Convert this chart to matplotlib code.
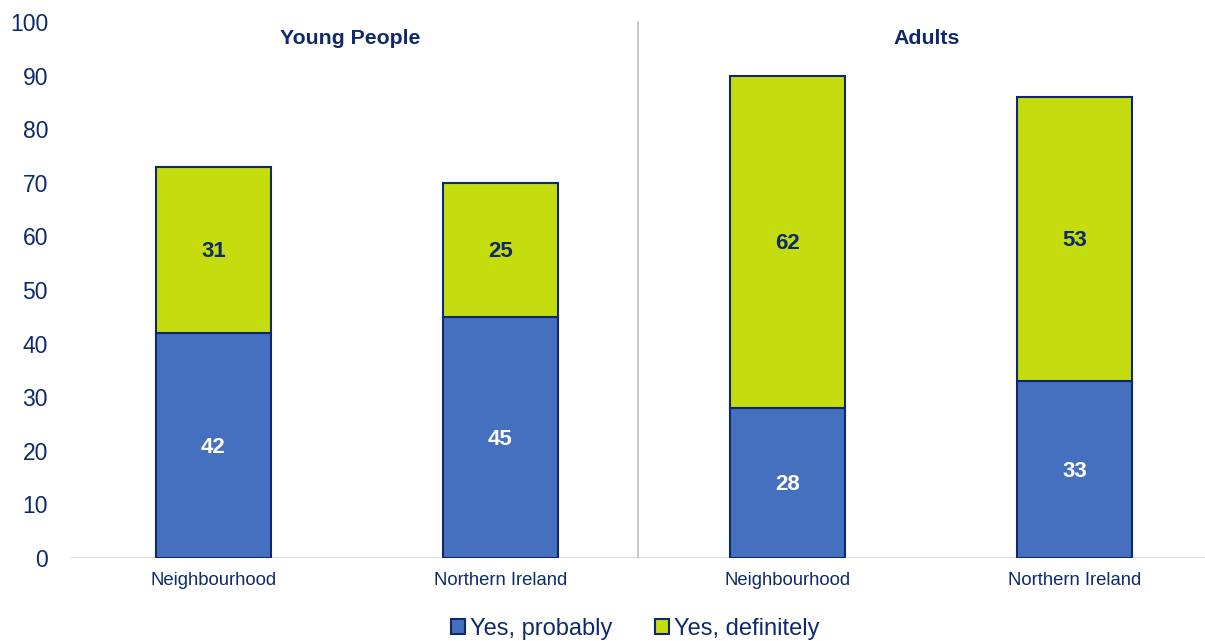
import matplotlib
matplotlib.use("Agg")
import matplotlib.pyplot as plt
import numpy as np

categories = ["Neighbourhood", "Northern Ireland", "Neighbourhood", "Northern Ireland"]
groups = ["Young People", "Adults"]
yes_probably = [42, 45, 28, 33]
yes_definitely = [31, 25, 62, 53]
series_names = ["Yes, probably", "Yes, definitely"]

navy = "#0E2A6B"
blue = "#4470BF"
green = "#C5DC0F"

plt.rcParams['font.family'] = ['Liberation Sans', 'DejaVu Sans']

fig = plt.figure(figsize=(12.05, 6.41), dpi=100)
ax = fig.add_axes([70/1205, (641-558)/641, 1 - 70/1205, (558-22)/641])

x = np.arange(len(categories))
w = 0.40
b1 = ax.bar(x, yes_probably, w, color=blue, edgecolor=navy, linewidth=1.5, label=series_names[0], zorder=3)
b2 = ax.bar(x, yes_definitely, w, bottom=yes_probably, color=green, edgecolor=navy, linewidth=1.5, label=series_names[1], zorder=3)

for xi, p, d in zip(x, yes_probably, yes_definitely):
    ax.text(xi, p / 2 - 0.3, str(p), ha="center", va="center", color="white", fontsize=16, fontweight="bold", zorder=4)
    ax.text(xi, p + d / 2 - 0.3, str(d), ha="center", va="center", color=navy, fontsize=16, fontweight="bold", zorder=4)

ax.set_xlim(-0.5, 3.455)
ax.set_ylim(0, 100)
ax.set_yticks(range(0, 101, 10))
ax.set_xticks(x)
ax.set_xticklabels(categories, fontsize=13.3, color=navy)
ax.tick_params(axis="y", labelsize=16.5, labelcolor=navy, length=0, pad=15.8)
ax.tick_params(axis="x", length=0, pad=10)
for s in ax.spines.values():
    s.set_visible(False)
ax.axhline(0, color="#D9D9D9", linewidth=2, zorder=2)
ax.plot([1.479, 1.479], [0, 100], color="#BFBFBF", linewidth=1.2, zorder=1, clip_on=False)

ax.text(0.476, 97, groups[0], ha="center", va="center", color=navy, fontsize=15.3, fontweight="bold")
ax.text(2.486, 97, groups[1], ha="center", va="center", color=navy, fontsize=15.3, fontweight="bold")

leg = fig.legend(handles=[b1, b2], labels=series_names, loc="center", bbox_to_anchor=(635/1205, 1 - 629/641),
                 ncol=2, frameon=False, fontsize=17, handlelength=0.6, handleheight=0.6,
                 handletextpad=0.2, columnspacing=1.8, borderaxespad=0)
for t in leg.get_texts():
    t.set_color(navy)

fig.savefig("out.png", dpi=100)
